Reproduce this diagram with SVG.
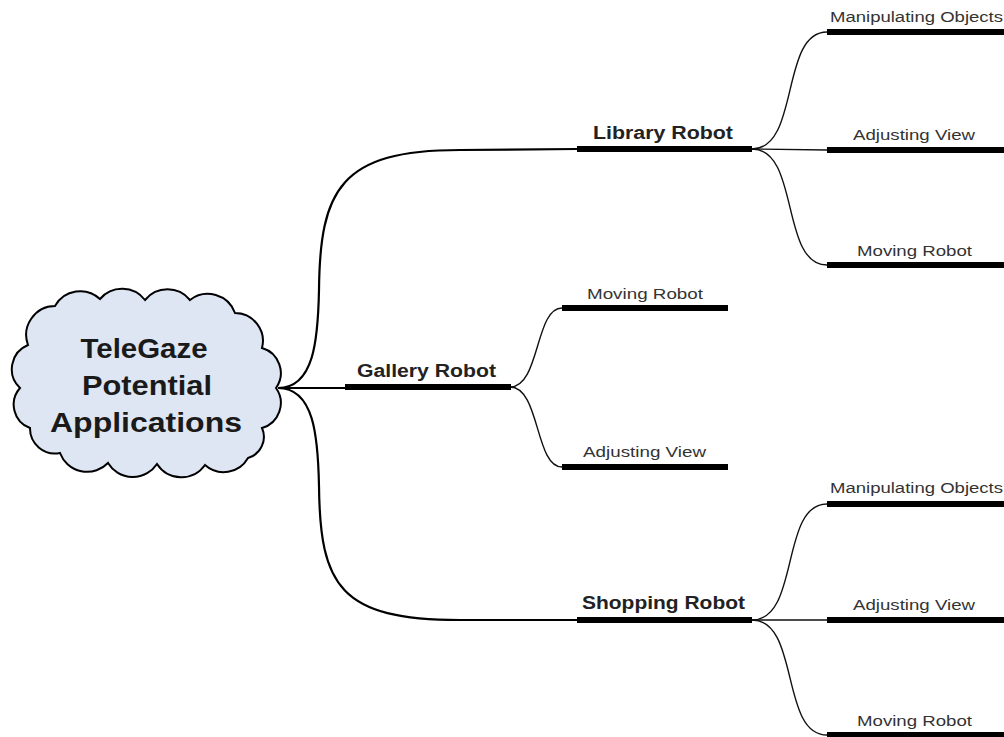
<svg xmlns="http://www.w3.org/2000/svg" width="1004" height="737" viewBox="0 0 1004 737">
  <style>
    .bar { stroke: #000; stroke-width: 6; stroke-linecap: butt; }
    .main { fill: none; stroke: #000; stroke-width: 2.2; }
    .sub { fill: none; stroke: #111; stroke-width: 1.4; }
    .lbl1 { font-family: "Liberation Sans", Arial, sans-serif; font-weight: bold; font-size: 18px; fill: #222; }
    .lbl2 { font-family: "Liberation Sans", Arial, sans-serif; font-size: 14px; fill: #333; }
    .root { font-family: "Liberation Sans", Arial, sans-serif; font-weight: bold; font-size: 27px; fill: #1a1a1a; }
  </style>
  <rect width="1004" height="737" fill="#fff"/>

  <g id="connectors">
    <path class="main" d="M278,388 C314,388 318,340 319,290 C320,190 340,150 460,150 L577,149"/>
    <path class="main" d="M278,388 L345,388"/>
    <path class="main" d="M278,388 C314,388 318,436 319,486 C320,586 340,620 460,620 L577,620"/>
    <path class="sub" d="M752,149 C800,149 780,32 827,32"/>
    <path class="sub" d="M752,149 L827,150"/>
    <path class="sub" d="M752,149 C800,149 780,265 827,265"/>
    <path class="sub" d="M510,387 C540,387 535,308 562,308"/>
    <path class="sub" d="M510,387 C540,387 535,467 562,467"/>
    <path class="sub" d="M752,620 C800,620 780,504 827,504"/>
    <path class="sub" d="M752,620 L827,620"/>
    <path class="sub" d="M752,620 C800,620 780,735 827,735"/>
  </g>

  <g id="root">
    <path d="M28,345 A29,29 0 0 1 55,306 A29,29 0 0 1 100,299 A29,29 0 0 1 145,300 A29,29 0 0 1 190,300 A29,29 0 0 1 235,313 A28,28 0 0 1 262,348 A26,26 0 0 1 276,388 A26,26 0 0 1 262,428 A22,22 0 0 1 248,458 A28,28 0 0 1 205,465 A29,29 0 0 1 157,464 A29,29 0 0 1 108,463 A29,29 0 0 1 60,453 A25,25 0 0 1 30,428 A25,25 0 0 1 20,388 A26,26 0 0 1 28,345 Z" fill="#dfe6f3" stroke="#000" stroke-width="2"/>
    <text class="root" x="144" y="358" text-anchor="middle" textLength="127" lengthAdjust="spacingAndGlyphs">TeleGaze</text>
    <text class="root" x="147" y="395" text-anchor="middle" textLength="130" lengthAdjust="spacingAndGlyphs">Potential</text>
    <text class="root" x="146" y="432" text-anchor="middle" textLength="192" lengthAdjust="spacingAndGlyphs">Applications</text>
  </g>

  <g id="library">
    <line class="bar" x1="577" y1="149" x2="752" y2="149"/>
    <text class="lbl1" x="593" y="139" textLength="140" lengthAdjust="spacingAndGlyphs">Library Robot</text>
  </g>
  <g id="library-manip">
    <line class="bar" x1="827" y1="32" x2="1004" y2="32"/>
    <text class="lbl2" x="830" y="22" textLength="173" lengthAdjust="spacingAndGlyphs">Manipulating Objects</text>
  </g>
  <g id="library-adjust">
    <line class="bar" x1="827" y1="150" x2="1004" y2="150"/>
    <text class="lbl2" x="853" y="140" textLength="122" lengthAdjust="spacingAndGlyphs">Adjusting View</text>
  </g>
  <g id="library-moving">
    <line class="bar" x1="827" y1="265" x2="1004" y2="265"/>
    <text class="lbl2" x="857" y="256" textLength="115" lengthAdjust="spacingAndGlyphs">Moving Robot</text>
  </g>

  <g id="gallery">
    <line class="bar" x1="345" y1="387" x2="511" y2="387"/>
    <text class="lbl1" x="357" y="377" textLength="139" lengthAdjust="spacingAndGlyphs">Gallery Robot</text>
  </g>
  <g id="gallery-moving">
    <line class="bar" x1="562" y1="308" x2="728" y2="308"/>
    <text class="lbl2" x="587" y="299" textLength="116" lengthAdjust="spacingAndGlyphs">Moving Robot</text>
  </g>
  <g id="gallery-adjust">
    <line class="bar" x1="562" y1="467" x2="728" y2="467"/>
    <text class="lbl2" x="583" y="457" textLength="123" lengthAdjust="spacingAndGlyphs">Adjusting View</text>
  </g>

  <g id="shopping">
    <line class="bar" x1="577" y1="620" x2="752" y2="620"/>
    <text class="lbl1" x="582" y="609" textLength="163" lengthAdjust="spacingAndGlyphs">Shopping Robot</text>
  </g>
  <g id="shopping-manip">
    <line class="bar" x1="827" y1="504" x2="1004" y2="504"/>
    <text class="lbl2" x="830" y="493" textLength="173" lengthAdjust="spacingAndGlyphs">Manipulating Objects</text>
  </g>
  <g id="shopping-adjust">
    <line class="bar" x1="827" y1="620" x2="1004" y2="620"/>
    <text class="lbl2" x="853" y="610" textLength="122" lengthAdjust="spacingAndGlyphs">Adjusting View</text>
  </g>
  <g id="shopping-moving">
    <line class="bar" x1="827" y1="735" x2="1004" y2="735"/>
    <text class="lbl2" x="857" y="726" textLength="115" lengthAdjust="spacingAndGlyphs">Moving Robot</text>
  </g>
</svg>
